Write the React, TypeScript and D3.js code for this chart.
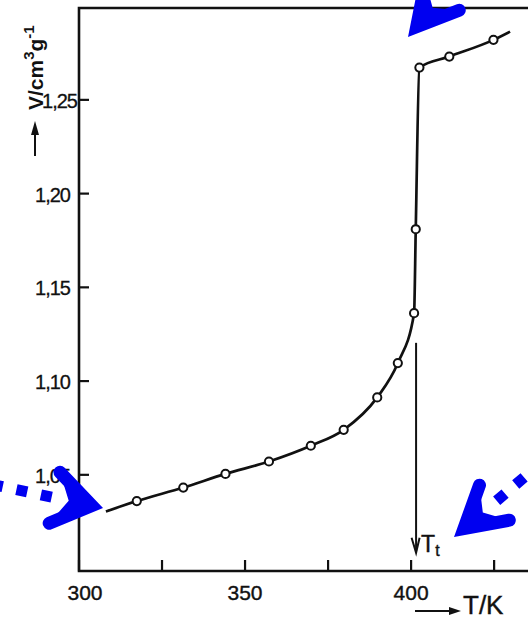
import React from "react";
import * as d3 from "d3";

const WIDTH = 528;
const HEIGHT = 620;

// ---- data ----
const curveT = [308.1, 317.4, 331.4, 344.1, 357.2, 369.8, 379.7, 389.8, 396.0, 400.9, 401.4, 402.5, 411.5, 424.8, 429.8];
const curveV = [1.0304, 1.036, 1.0432, 1.0505, 1.0571, 1.0655, 1.074, 1.0913, 1.1096, 1.1362, 1.181, 1.2672, 1.2731, 1.282, 1.2864];
const markerT = [317.4, 331.4, 344.1, 357.2, 369.8, 379.7, 389.8, 396.0, 400.9, 401.4, 402.5, 411.5, 424.8];
const markerV = [1.036, 1.0432, 1.0505, 1.0571, 1.0655, 1.074, 1.0913, 1.1096, 1.1362, 1.181, 1.2672, 1.2731, 1.282];

const xTicks = [300, 325, 350, 375, 400, 425];
const xLabelValues = [300, 350, 400];
const xLabels = ["300", "350", "400"];
const yTicks = [1.05, 1.1, 1.15, 1.2, 1.25];
const yLabels = ["1,05", "1,10", "1,15", "1,20", "1,25"];

const xDomain = [300, 435.2];
const yDomain = [0.9987, 1.299];

// transition temperature annotation
const tT = 401.5;
const tTopV = 1.1204;
const tBottomV = 1.0084;

// blue overlay arrows: tip (data coords), direction toward tail (deg), head length, half width
const blueTipT = [307.23, 399.07, 412.92];
const blueTipV = [1.0323, 1.2835, 1.0168];
const blueAngle = [192, -50, -40.4];
const blueLen = [38, 40, 40];
const blueHalf = [26, 22, 23];

const FONT = "'Liberation Sans', Arial, sans-serif";

export default function App() {
  const margin = { left: 79, top: 8, right: 0, bottom: 49 };
  const x = d3.scaleLinear().domain(xDomain).range([margin.left, WIDTH - margin.right]);
  const y = d3.scaleLinear().domain(yDomain).range([HEIGHT - margin.bottom, margin.top]);

  const pts: [number, number][] = curveT.map((t, i) => [x(t), y(curveV[i])]);
  const lineGen = d3.line<[number, number]>().x((d) => d[0]).y((d) => d[1]).curve(d3.curveMonotoneX);
  const pathD = lineGen(pts) || "";

  const x0 = x(xDomain[0]);
  const x1 = x(xDomain[1]);
  const yTop = y(yDomain[1]);
  const yBot = y(yDomain[0]);

  const tx = x(tT);
  const tTop = y(tTopV);
  const tBot = y(tBottomV);

  const blue = "#0000f0";
  const arrows = blueTipT.map((t, i) => {
    const P = [x(t), y(blueTipV[i])];
    const a = (blueAngle[i] * Math.PI) / 180;
    const u = [Math.cos(a), Math.sin(a)];
    const n = [-Math.sin(a), Math.cos(a)];
    const L = blueLen[i];
    const Wd = blueHalf[i];
    const h = 6.5;
    const ha = Math.atan(Wd / L);
    const e = h / Math.sin(ha);
    const Tc = [P[0] + e * u[0], P[1] + e * u[1]];
    const A1 = [Tc[0] + L * u[0] + Wd * n[0], Tc[1] + L * u[1] + Wd * n[1]];
    const A2 = [Tc[0] + L * u[0] - Wd * n[0], Tc[1] + L * u[1] - Wd * n[1]];
    const N = [Tc[0] + 0.62 * L * u[0], Tc[1] + 0.62 * L * u[1]];
    const tailS = [Tc[0] + (L + 3) * u[0], Tc[1] + (L + 3) * u[1]];
    const tailE = [Tc[0] + 400 * u[0], Tc[1] + 400 * u[1]];
    return { Tc, A1, A2, N, tailS, tailE };
  });

  return (
    <svg
      width={WIDTH}
      height={HEIGHT}
      style={{ position: "absolute", left: 0, top: 0, background: "#fff" }}
      fontFamily={FONT}
    >
      <rect x={0} y={0} width={WIDTH} height={HEIGHT} fill="#fff" />

      {/* frame */}
      <path
        d={`M${x1},${yTop} L${x0},${yTop} L${x0},${yBot} L${x1},${yBot}`}
        fill="none"
        stroke="#111"
        strokeWidth={2.6}
      />

      {/* x ticks */}
      {xTicks.map((t) => (
        <line key={"xt" + t} x1={x(t)} x2={x(t)} y1={yBot} y2={yBot - 11} stroke="#111" strokeWidth={2.2} />
      ))}
      {xLabelValues.map((t, i) => (
        <text
          key={"xl" + t}
          x={x(t) + (i === 0 ? 6 : 0)}
          y={yBot + 29}
          textAnchor="middle"
          fontSize={21}
          stroke="#111"
          strokeWidth={0.4}
          fill="#111"
        >
          {xLabels[i]}
        </text>
      ))}

      {/* y ticks */}
      {yTicks.map((v) => (
        <line key={"yt" + v} x1={x0} x2={x0 + 10} y1={y(v)} y2={y(v)} stroke="#111" strokeWidth={2.2} />
      ))}
      {yLabels.map((s, i) => (
        <text
          key={"yl" + s}
          x={i === yLabels.length - 1 ? 77 : 70}
          y={y(yTicks[i]) + 8}
          textAnchor="end"
          fontSize={20}
          letterSpacing={-1}
          stroke="#111"
          strokeWidth={0.3}
          fill="#111"
        >
          {s}
        </text>
      ))}

      {/* y axis title */}
      <text transform="translate(43,110) rotate(-90)" fontSize={21} fontWeight="bold" fill="#111">
        V/cm
        <tspan fontSize={15} dy={-9}>3</tspan>
        <tspan dy={9}>g</tspan>
        <tspan fontSize={15} dy={-9}>-1</tspan>
      </text>
      <line x1={35} x2={35} y1={156} y2={132} stroke="#111" strokeWidth={2} />
      <path d="M35,121 L31,135 L39,135 Z" fill="#111" />

      {/* x axis title */}
      <line x1={415} x2={452} y1={611} y2={611} stroke="#111" strokeWidth={2} />
      <path d="M461,611 L449,607 L449,615 Z" fill="#111" />
      <text x={463} y={614} fontSize={26} stroke="#111" strokeWidth={0.4} fill="#111">
        T/K
      </text>

      {/* data curve */}
      <path d={pathD} fill="none" stroke="#111" strokeWidth={2.7} strokeLinejoin="round" />
      {markerT.map((t, i) => (
        <circle key={"m" + i} cx={x(t)} cy={y(markerV[i])} r={4.1} fill="#fff" stroke="#111" strokeWidth={2} />
      ))}

      {/* T_t marker */}
      <line x1={tx} x2={tx} y1={tTop} y2={tBot - 2} stroke="#111" strokeWidth={2} />
      <path d={`M${tx - 4.5},${tBot - 15} L${tx},${tBot} L${tx + 3.5},${tBot - 15}`} fill="none" stroke="#111" strokeWidth={2} />
      <text x={tx + 5} y={tBot - 1} fontSize={23} stroke="#111" strokeWidth={0.4} fill="#111">
        T
        <tspan fontSize={16} dy={4}>t</tspan>
      </text>

      {/* blue overlay arrows */}
      {arrows.map((a, i) => (
        <g key={"ba" + i}>
          <line
            x1={a.tailS[0]}
            y1={a.tailS[1]}
            x2={a.tailE[0]}
            y2={a.tailE[1]}
            stroke={blue}
            strokeWidth={11}
            strokeDasharray="11 14"
          />
          <path d={`M${a.Tc[0]},${a.Tc[1]} L${a.A1[0]},${a.A1[1]} L${a.N[0]},${a.N[1]} L${a.A2[0]},${a.A2[1]} Z`} fill={blue} />
          <path
            d={`M${a.A1[0]},${a.A1[1]} L${a.Tc[0]},${a.Tc[1]} L${a.A2[0]},${a.A2[1]}`}
            fill="none"
            stroke={blue}
            strokeWidth={13}
            strokeLinejoin="miter"
            strokeLinecap="round"
          />
        </g>
      ))}
    </svg>
  );
}
